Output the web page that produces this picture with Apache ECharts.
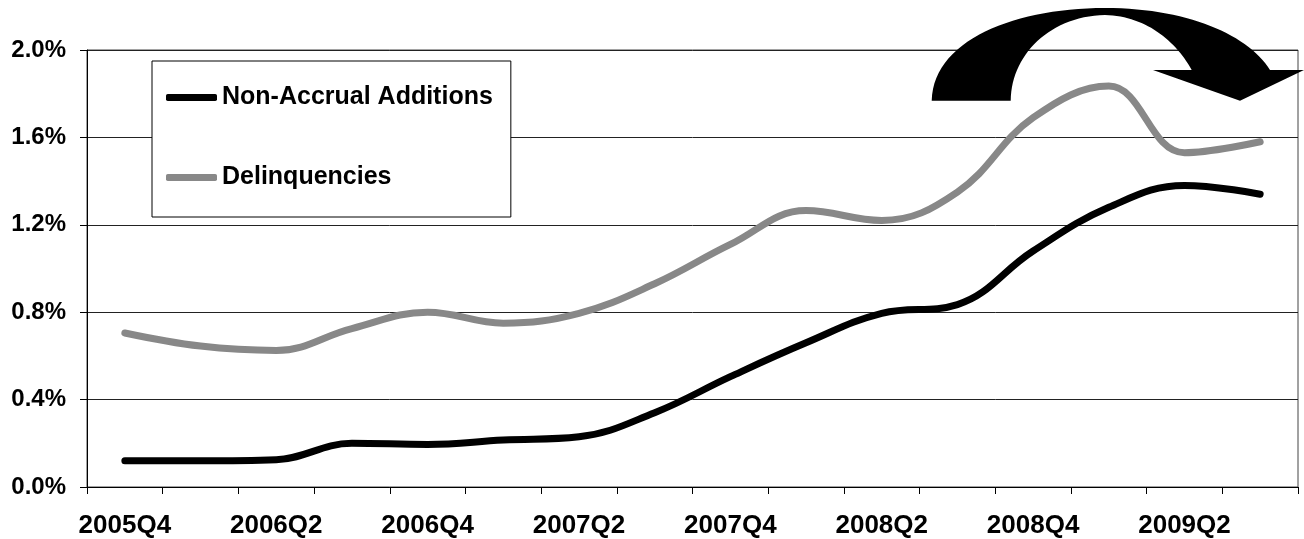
<!DOCTYPE html>
<html>
<head>
<meta charset="utf-8">
<script src="https://cdn.jsdelivr.net/npm/echarts@6/dist/echarts.min.js"></script>
<style>
  html, body { margin: 0; padding: 0; background: #fff; }
  #chart { width: 1304px; height: 539px; }
</style>
</head>
<body>
<div id="chart"></div>
<script>
// Quarterly rates, percent of outstanding balances
var quarters = ['2005Q4', '2006Q1', '2006Q2', '2006Q3', '2006Q4', '2007Q1', '2007Q2', '2007Q3',
                '2007Q4', '2008Q1', '2008Q2', '2008Q3', '2008Q4', '2009Q1', '2009Q2', '2009Q3'];
var nonAccrualAdditions = [0.12, 0.12, 0.125, 0.20, 0.195, 0.215, 0.23, 0.34,
                           0.505, 0.66, 0.795, 0.835, 1.08, 1.28, 1.38, 1.34];
var delinquencies = [0.705, 0.645, 0.625, 0.725, 0.80, 0.75, 0.795, 0.93,
                     1.11, 1.265, 1.22, 1.35, 1.69, 1.835, 1.53, 1.58];
var yTicks = { min: 0, max: 2.0, step: 0.4 };

var FONT = '"Liberation Sans", Arial, Helvetica, sans-serif';

var chart = echarts.init(document.getElementById('chart'), null, { renderer: 'canvas' });

// Curved "turning down" arrow in the top right corner, built as a polygon
// from cubic Bezier segments.
function cubic(p0, p1, p2, p3, n) {
  var pts = [];
  for (var i = 1; i <= n; i++) {
    var t = i / n, u = 1 - t;
    pts.push([
      u * u * u * p0[0] + 3 * u * u * t * p1[0] + 3 * u * t * t * p2[0] + t * t * t * p3[0],
      u * u * u * p0[1] + 3 * u * u * t * p1[1] + 3 * u * t * t * p2[1] + t * t * t * p3[1]
    ]);
  }
  return pts;
}
function arrowPoints() {
  var pts = [[931.7, 100.7]];
  pts = pts.concat(cubic([931.7, 100.7], [933, 40], [1015, 8], [1105, 8], 30));
  pts = pts.concat(cubic([1105, 8], [1188, 8], [1248, 35], [1270, 70], 30));
  pts.push([1304, 70], [1240, 100.7], [1153, 70], [1191.7, 70]);
  pts = pts.concat(cubic([1191.7, 70], [1175, 40], [1145, 16], [1105, 15], 30));
  pts = pts.concat(cubic([1105, 15], [1050, 16], [1011, 55], [1010.7, 100.7], 30));
  return pts;
}

chart.setOption({
  animation: false,
  backgroundColor: '#fff',
  grid: {
    left: 87, right: 6, top: 50, bottom: 50,
    show: true, borderColor: '#444', borderWidth: 1, backgroundColor: 'transparent'
  },
  legend: {
    orient: 'vertical',
    left: 152, top: 61,
    padding: [24, 18, 27, 14],
    itemGap: 55,
    itemWidth: 51, itemHeight: 7,
    icon: 'roundRect',
    backgroundColor: '#fff',
    borderColor: '#000', borderWidth: 1,
    textStyle: { fontFamily: FONT, fontWeight: 'bold', fontSize: 25, color: '#000' },
    data: ['Non-Accrual Additions', 'Delinquencies']
  },
  xAxis: {
    type: 'category',
    data: quarters,
    boundaryGap: true,
    axisLine: { show: true, lineStyle: { color: '#000', width: 1 } },
    axisTick: { show: true, interval: 0, length: 7, lineStyle: { color: '#000' } },
    axisLabel: {
      interval: 1, margin: 26,
      fontFamily: FONT, fontWeight: 'bold', fontSize: 26, color: '#000'
    },
    splitLine: { show: false }
  },
  yAxis: {
    type: 'value',
    min: yTicks.min, max: yTicks.max, interval: yTicks.step,
    axisLine: { show: true, lineStyle: { color: '#000', width: 1 } },
    axisTick: { show: true, length: 7, lineStyle: { color: '#000' } },
    axisLabel: {
      margin: 21,
      fontFamily: FONT, fontWeight: 'bold', fontSize: 24, color: '#000',
      formatter: function (v) { return v.toFixed(1) + '%'; }
    },
    splitLine: { show: true, lineStyle: { color: '#222', width: 1 } }
  },
  series: [
    {
      name: 'Non-Accrual Additions',
      type: 'line',
      data: nonAccrualAdditions,
      smooth: 0.4,
      showSymbol: false,
      symbol: 'none',
      itemStyle: { color: '#000' },
      lineStyle: { color: '#000', width: 7, cap: 'round', join: 'round' },
      z: 3
    },
    {
      name: 'Delinquencies',
      type: 'line',
      data: delinquencies,
      smooth: 0.4,
      showSymbol: false,
      symbol: 'none',
      itemStyle: { color: '#888' },
      lineStyle: { color: '#888', width: 7, cap: 'round', join: 'round' },
      z: 2
    }
  ],
  graphic: [
    {
      type: 'polygon',
      z: 100,
      shape: { points: arrowPoints() },
      style: { fill: '#000', stroke: 'none' }
    }
  ]
});
</script>
</body>
</html>
